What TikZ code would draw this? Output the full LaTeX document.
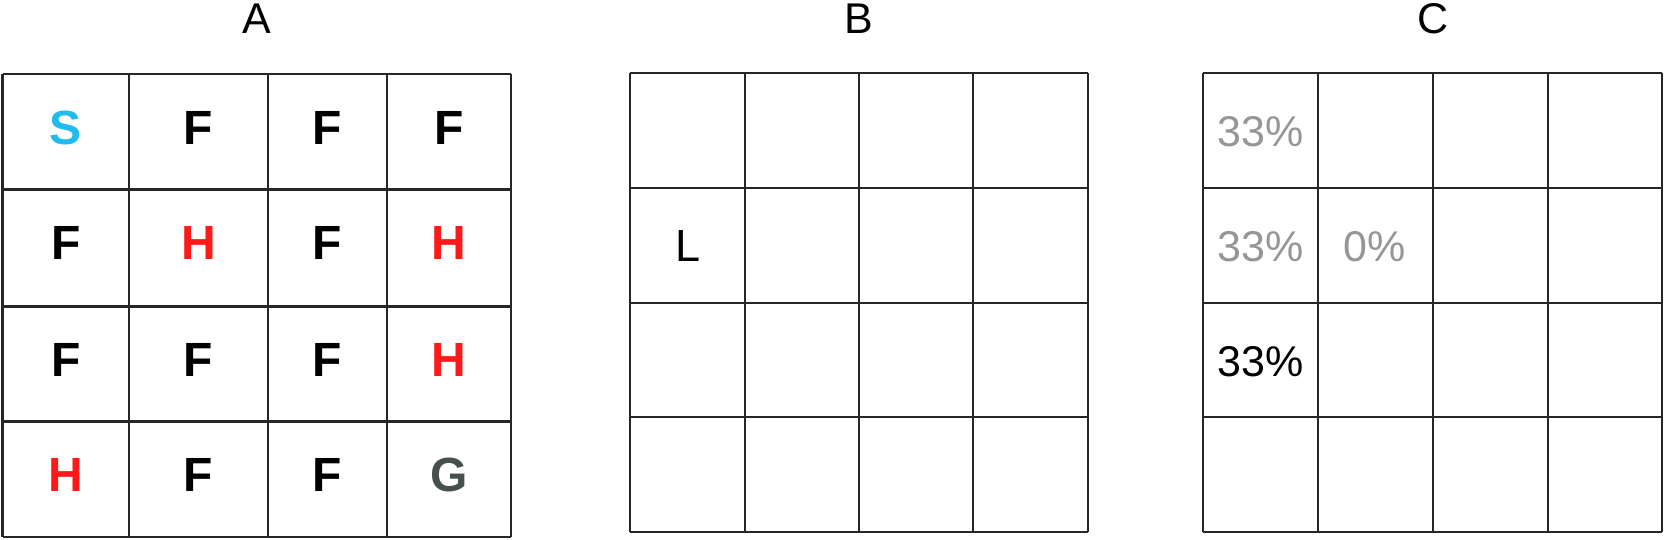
\documentclass[tikz,border=0pt]{standalone}
\usepackage{fontspec}
\setmainfont{Liberation Sans}
\usetikzlibrary{positioning}
\definecolor{startblue}{RGB}{34,187,238}
\definecolor{holered}{RGB}{255,25,25}
\definecolor{goalgray}{RGB}{70,80,78}
\definecolor{probgray}{RGB}{150,150,150}

\begin{document}
\begin{tikzpicture}[
    x=1pt, y=-1pt,
    gridline/.style={line width=2.4pt, draw=black!85},
    title/.style={font=\fontsize{43}{48}\selectfont, inner sep=0pt},
    tile/.style={font=\fontsize{48}{52}\selectfont\bfseries, inner sep=0pt},
    agent/.style={font=\fontsize{45}{50}\selectfont, inner sep=0pt},
    prob/.style={font=\fontsize{43}{48}\selectfont, inner sep=0pt, text=probgray}
]
\useasboundingbox (0,0) rectangle (1665,540);

% Titles
\node[title] (titleA) at (257,19)  {A};
\node[title] (titleB) at (859,19)  {B};
\node[title] (titleC) at (1433,19) {C};

% Grid A (uneven columns)
\foreach \x in {2.5,129,268,387,511}
    \draw[gridline] (\x,74) -- (\x,537);
\foreach \y in {74,189.5,306.5,421.5,537}
    \draw[gridline] (2.5,\y) -- (511,\y);

% Grid B
\foreach \x in {630,745,859,973,1088}
    \draw[gridline] (\x,73) -- (\x,532);
\foreach \y in {73,188,303,417,532}
    \draw[gridline] (630,\y) -- (1088,\y);

% Grid C
\foreach \x in {1203,1318,1433,1548,1662}
    \draw[gridline] (\x,73) -- (\x,532);
\foreach \y in {73,188,303,417,532}
    \draw[gridline] (1203,\y) -- (1662,\y);

% Tiles of grid A
\node[tile, text=startblue] (a11) at (66,127.5)    {S};
\node[tile]                (a12) at (198.5,127.5)  {F};
\node[tile]                (a13) at (327.5,127.5)  {F};
\node[tile]                (a14) at (449,127.5)    {F};

\node[tile]                (a21) at (66,243)       {F};
\node[tile, text=holered]  (a22) at (198.5,243)    {H};
\node[tile]                (a23) at (327.5,243)    {F};
\node[tile, text=holered]  (a24) at (449,243)      {H};

\node[tile]                (a31) at (66,360)       {F};
\node[tile]                (a32) at (198.5,360)    {F};
\node[tile]                (a33) at (327.5,360)    {F};
\node[tile, text=holered]  (a34) at (449,360)      {H};

\node[tile, text=holered]  (a41) at (66,475)       {H};
\node[tile]                (a42) at (198.5,475)    {F};
\node[tile]                (a43) at (327.5,475)    {F};
\node[tile, text=goalgray] (a44) at (449,475)      {G};

% Agent in grid B
\node[agent] (agentL) at (688,246) {L};

% Move probabilities in grid C
\node[prob]  (up)    at (1261,132)   {33\%};
\node[prob]  (stay)  at (1261,246.5) {33\%};
\node[prob]  (right) at (1375,246.5) {0\%};
\node[prob, text=black] (down) at (1261,361.5) {33\%};

\end{tikzpicture}
\end{document}
